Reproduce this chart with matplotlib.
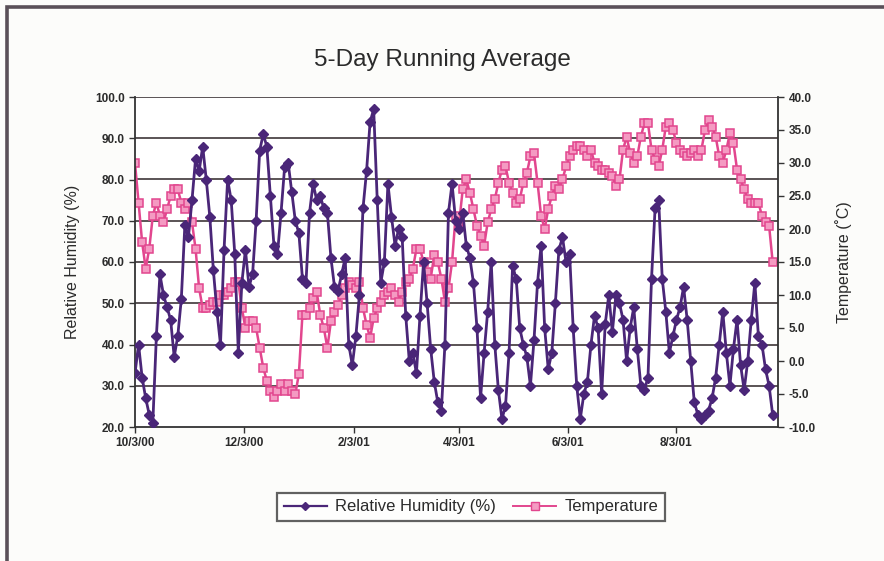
import matplotlib
matplotlib.use("Agg")
import matplotlib.pyplot as plt
import pandas as pd
from matplotlib.lines import Line2D
from matplotlib.patches import Rectangle

# Daily readings, sampled every second day from 3 Oct 2000
start_date = "2000-10-03"
step_days = 2

humidity = [
    33, 40, 32, 27, 23, 21, 42, 57, 52, 49, 46, 37, 42, 51, 69, 66, 75, 85, 82, 88, 80, 71, 58, 48, 40, 63, 80, 75, 62, 38,
    55, 63, 54, 57, 70, 87, 91, 88, 76, 64, 62, 72, 83, 84, 77, 70, 67, 56, 55, 72, 79, 75, 76, 73, 72, 61, 54, 53, 57, 61,
    40, 35, 42, 52, 73, 82, 94, 97, 75, 55, 60, 79, 71, 64, 68, 66, 47, 36, 38, 33, 47, 60, 50, 39, 31, 26, 24, 40, 72, 79,
    70, 68, 72, 64, 61, 55, 44, 27, 38, 48, 60, 40, 29, 22, 25, 38, 59, 56, 44, 40, 37, 30, 41, 55, 64, 44, 34, 38, 50, 63,
    66, 60, 62, 44, 30, 22, 28, 31, 40, 47, 44, 28, 45, 52, 43, 52, 50, 46, 36, 44, 49, 39, 30, 29, 32, 56, 73, 75, 56, 48,
    38, 42, 46, 49, 54, 46, 36, 26, 23, 22, 23, 24, 27, 32, 40, 48, 38, 30, 39, 46, 35, 29, 36, 46, 55, 42, 40, 34, 30, 23,
]

temperature = [
    30, 24, 18, 14, 17, 22, 24, 22, 21, 23, 25, 26, 26, 24, 23, 24, 21, 17, 11, 8, 8, 8.5, 9, 9, 10, 10, 10.5, 11, 12, 12,
    8, 5, 6, 6, 5, 2, -1, -3, -4.5, -5.5, -4.5, -3.5, -4.5, -3.5, -4.5, -5, -2, 7, 7, 8, 9.5, 10.5, 7, 5, 2, 6, 7.5, 8.5, 10, 11,
    12, 11.5, 11, 12, 8, 5.5, 3.5, 6.5, 8, 9, 10, 10.5, 11, 10, 9, 10.5, 12, 12.5, 14, 17, 17, 15, 13.5, 12.5, 16, 15, 12.5, 9, 11, 15,
    22, 21, 26, 27.5, 25.5, 23, 20.5, 19, 17.5, 21, 23, 24.5, 27, 29, 29.5, 27, 25.5, 24, 24.5, 27, 28.5, 31, 31.5, 27, 22, 20, 23, 25, 26.5, 26,
    27.5, 29.5, 31, 32, 32.5, 32.5, 32, 31, 32, 30, 29.5, 29, 29, 28.5, 28, 26.5, 27.5, 32, 34, 31.5, 30, 31, 34, 36, 36, 32, 30.5, 29.5, 32, 35.5,
    36, 35, 33, 32, 31.5, 31, 31.5, 32, 31, 32, 35, 36.5, 35.5, 34, 31, 30, 32, 34.5, 33, 29, 27.5, 26, 24.5, 24, 24, 24, 22, 21, 20.5, 15,
]

tick_dates = ["2000-10-03", "2000-12-03", "2001-02-03", "2001-04-03", "2001-06-03", "2001-08-03"]
tick_labels = ["10/3/00", "12/3/00", "2/3/01", "4/3/01", "6/3/01", "8/3/01"]

dates = pd.date_range(start_date, periods=len(humidity), freq=f"{step_days}D")

plt.rcParams["font.family"] = ["Liberation Sans", "DejaVu Sans"]

rh_color = "#4a2678"
t_edge = "#e2468e"
t_face = "#f49ac2"
grid_color = "#4d4548"
text_color = "#2b2b2b"

fig = plt.figure(figsize=(8.84, 5.61), dpi=100)
fig.patch.set_facecolor("#fcfcfa")

# outer frame of the panel
fig.patches.append(Rectangle((7 / 884, -0.02), 1.2, 1 - 7 / 561 + 0.02,
                             transform=fig.transFigure, fill=False,
                             edgecolor="#5a5058", linewidth=2.6))

ax = fig.add_axes([135 / 884, 1 - 427 / 561, (778 - 135) / 884, (427 - 97) / 561])
ax2 = ax.twinx()

ax.plot(dates, humidity, color=rh_color, linewidth=2.0, marker="D",
        markersize=5.0, markerfacecolor=rh_color, markeredgecolor=rh_color, zorder=3)
ax2.plot(dates, temperature, color=t_edge, linewidth=1.8, marker="s",
         markersize=6.2, markerfacecolor=t_face, markeredgecolor=t_edge,
         markeredgewidth=1.1, zorder=2)

ax.set_zorder(ax2.get_zorder() + 1)
ax.patch.set_visible(False)
ax2.patch.set_visible(True)
ax2.patch.set_facecolor("white")

ax.set_ylim(20, 100)
ax2.set_ylim(-10, 40)
ax.set_yticks(range(20, 101, 10))
ax2.set_yticks(range(-10, 41, 5))
ax.set_yticklabels([f"{v:.1f}" for v in range(20, 101, 10)])
ax2.set_yticklabels([f"{v:.1f}" for v in range(-10, 41, 5)])

x0 = pd.Timestamp(start_date)
ax.set_xlim(x0, x0 + pd.Timedelta(days=361))
ax.set_xticks(pd.to_datetime(tick_dates))
ax.set_xticklabels(tick_labels)

for y in range(30, 101, 10):
    ax2.axhline((y - 20) / 80 * 50 - 10, color=grid_color, linewidth=1.3, zorder=1)

for a in (ax, ax2):
    for s in a.spines.values():
        s.set_visible(False)
ax.spines["left"].set_visible(True)
ax.spines["bottom"].set_visible(True)
ax2.spines["right"].set_visible(True)
for s in (ax.spines["left"], ax.spines["bottom"], ax2.spines["right"]):
    s.set_color("#333333")
    s.set_linewidth(1.3)

ax.tick_params(axis="both", direction="out", length=4, color="#333333",
               labelsize=8.5, labelcolor=text_color, width=1)
ax2.tick_params(axis="y", direction="out", length=4, color="#333333",
                labelsize=8.5, labelcolor=text_color, width=1)
for lab in ax.get_yticklabels() + ax2.get_yticklabels() + ax.get_xticklabels():
    lab.set_fontweight("bold")

ax.set_ylabel("Relative Humidity (%)", fontsize=11.5, color=text_color, labelpad=11)
ax2.set_ylabel("Temperature (\u02daC)", fontsize=11.5, color=text_color, labelpad=14,
               rotation=90)

fig.text(0.5, 1 - 60 / 561, "5-Day Running Average", ha="center", va="center",
         fontsize=17.5, color=text_color)

handles = [
    Line2D([], [], color=rh_color, marker="D", markersize=4.5, linewidth=1.6,
           markerfacecolor=rh_color),
    Line2D([], [], color=t_edge, marker="s", markersize=5.5, linewidth=1.4,
           markerfacecolor=t_face, markeredgecolor=t_edge),
]
leg = fig.legend(handles, ["Relative Humidity (%)", "Temperature"],
                 loc="center", bbox_to_anchor=(471 / 884, 1 - 507 / 561),
                 ncol=2, frameon=True, fancybox=False, fontsize=12,
                 handlelength=2.6, columnspacing=1.0, handletextpad=0.5,
                 borderpad=0.4)
leg.get_frame().set_edgecolor("#3a3a3a")
leg.get_frame().set_linewidth(1.6)
for t in leg.get_texts():
    t.set_color(text_color)

fig.savefig("out.png", dpi=100, facecolor=fig.get_facecolor())
